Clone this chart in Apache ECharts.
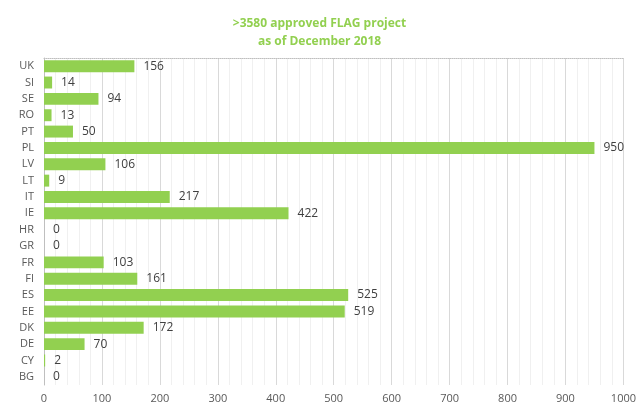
<!DOCTYPE html>
<html>
<head>
<meta charset="utf-8">
<script src="https://cdn.jsdelivr.net/npm/echarts@6/dist/echarts.min.js"></script>
<style>
html, body { margin: 0; padding: 0; background: #fff; }
#main { width: 639px; height: 404px; }
</style>
</head>
<body>
<div id="main"></div>
<script>
// countries, bottom to top as the axis draws them
var countries = ['BG', 'CY', 'DE', 'DK', 'EE', 'ES', 'FI', 'FR', 'GR', 'HR', 'IE', 'IT', 'LT', 'LV', 'PL', 'PT', 'RO', 'SE', 'SI', 'UK'];
var projects = [0, 2, 70, 172, 519, 525, 161, 103, 0, 0, 422, 217, 9, 106, 950, 50, 13, 94, 14, 156];
var xTicks = [0, 100, 200, 300, 400, 500, 600, 700, 800, 900, 1000];

var myChart = echarts.init(document.getElementById('main'));

var option = {
    animation: false,
    textStyle: { fontFamily: 'Open Sans' },
    title: {
        text: '>3580 approved FLAG project\nas of December 2018',
        left: 'center',
        top: 10,
        textStyle: {
            color: '#92d050',
            fontSize: 12,
            fontWeight: 'bold',
            lineHeight: 18
        }
    },
    grid: { left: 44, right: 12, top: 58, bottom: 18 },
    xAxis: [{
        type: 'value',
        min: xTicks[0],
        max: xTicks[xTicks.length - 1],
        interval: 100,
        axisLine: { show: false },
        axisTick: { show: false },
        axisLabel: {
            color: '#595959', fontSize: 11, margin: 8,
            formatter: function (v) { return String(v); }
        },
        splitLine: { lineStyle: { color: '#d9d9d9' } },
        minorTick: { show: false, splitNumber: 5 },
        minorSplitLine: { show: true, lineStyle: { color: '#f0f0f0' } }
    }, {
        type: 'value',
        position: 'top',
        min: 0,
        max: 1000,
        axisLine: { show: true, lineStyle: { color: '#bfbfbf', type: 'dotted' } },
        axisTick: { show: false },
        axisLabel: { show: false },
        splitLine: { show: false }
    }],
    yAxis: {
        type: 'category',
        data: countries,
        axisLine: { lineStyle: { color: '#bfbfbf' } },
        axisTick: { show: false },
        axisLabel: { color: '#595959', fontSize: 11, margin: 10 }
    },
    series: [{
        type: 'bar',
        data: projects,
        barCategoryGap: '27%',
        itemStyle: { color: '#92d050' },
        label: {
            show: true,
            position: 'right',
            distance: 9,
            color: '#404040',
            fontSize: 12
        }
    }]
};

myChart.setOption(option);
</script>
</body>
</html>
